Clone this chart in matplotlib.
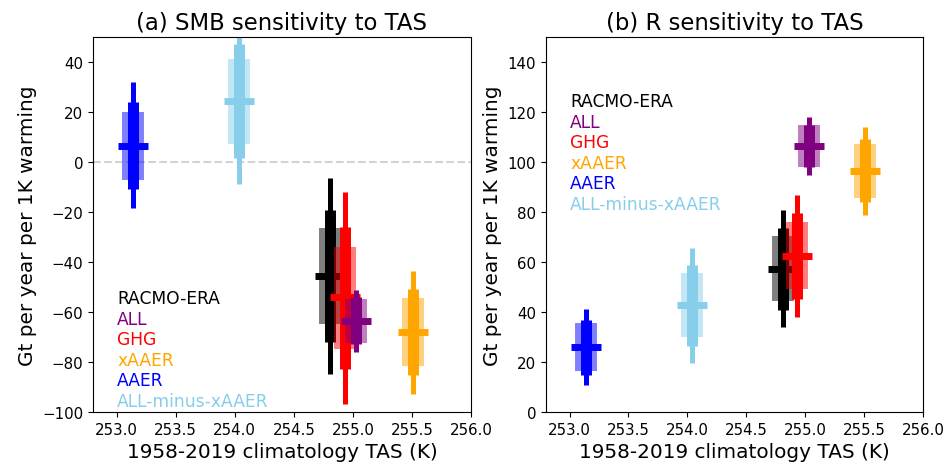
import numpy as np
import matplotlib
matplotlib.use('Agg')
import matplotlib.pyplot as plt

# model runs, same order as the coloured labels
names = ['RACMO-ERA', 'ALL', 'GHG', 'xAAER', 'AAER', 'ALL-minus-xAAER']
colors = ['black', 'purple', 'red', 'orange', 'blue', 'skyblue']

# climatology TAS (K)
tas = [254.81, 255.03, 254.93, 255.51, 253.14, 254.04]

# (a) SMB sensitivity
smb_mean = [-45.6, -63.7, -54.1, -68.1, 6.5, 24.5]
smb_box_lo = [-64.8, -72.4, -74.8, -81.5, -7.1, 7.3]
smb_box_hi = [-26.5, -54.8, -33.9, -54.5, 20.1, 41.2]
smb_in_lo = [-72.1, -72.8, -82.8, -85.2, -10.8, 1.7]
smb_in_hi = [-19.2, -54.1, -25.9, -50.8, 24.1, 47.2]
smb_out_lo = [-84.8, -76.1, -96.8, -92.8, -18.5, -8.9]
smb_out_hi = [-6.5, -51.1, -11.9, -43.5, 31.9, 57.0]

# (b) R sensitivity
r_mean = [57.2, 106.5, 62.3, 96.5, 26.1, 42.7]
r_box_lo = [44.5, 97.9, 49.2, 85.6, 16.3, 29.9]
r_box_hi = [70.3, 114.9, 75.9, 107.2, 35.6, 55.6]
r_in_lo = [40.9, 97.9, 45.2, 83.9, 14.9, 26.5]
r_in_hi = [73.6, 114.9, 79.5, 109.2, 36.9, 58.8]
r_out_lo = [33.9, 94.9, 37.9, 78.8, 10.9, 19.7]
r_out_hi = [80.9, 117.9, 86.9, 114.1, 41.2, 65.6]

draw_order = [0, 2, 1, 3, 4, 5]


def draw_panel(ax, mean, box_lo, box_hi, in_lo, in_hi, out_lo, out_hi):
    for i in draw_order:
        x = tas[i]
        c = colors[i]
        ax.plot([x, x], [box_lo[i], box_hi[i]], color=c, alpha=0.5, lw=15.8,
                solid_capstyle='butt')
        ax.plot([x, x], [out_lo[i], out_hi[i]], color=c, lw=3.6, solid_capstyle='butt')
        ax.plot([x, x], [in_lo[i], in_hi[i]], color=c, lw=7.9, solid_capstyle='butt')
        ax.plot(x, mean[i], marker='_', ms=22, mew=5, color=c)
    ax.set_xlim(252.8, 256.0)
    ax.set_xticks(np.arange(253.0, 256.01, 0.5))
    ax.set_xlabel('1958-2019 climatology TAS (K)', fontsize=14.4)
    ax.set_ylabel('Gt per year per 1K warming', fontsize=14.4)
    ax.tick_params(labelsize=10.8)


fig = plt.figure(figsize=(9.48, 4.64), dpi=100)
ax1 = fig.add_axes([93 / 948, 1 - 413 / 464, 378 / 948, 375 / 464])
ax2 = fig.add_axes([546 / 948, 1 - 413 / 464, 377 / 948, 375 / 464])

ax1.axhline(0, color='lightgray', ls='--', lw=1.5, zorder=0)
draw_panel(ax1, smb_mean, smb_box_lo, smb_box_hi, smb_in_lo, smb_in_hi, smb_out_lo, smb_out_hi)
ax1.set_ylim(-100, 50)
ax1.set_yticks(np.arange(-100, 41, 20))
ax1.set_title('(a) SMB sensitivity to TAS', fontsize=16.4)

draw_panel(ax2, r_mean, r_box_lo, r_box_hi, r_in_lo, r_in_hi, r_out_lo, r_out_hi)
ax2.set_ylim(0, 150)
ax2.set_yticks(np.arange(0, 141, 20))
ax2.set_title('(b) R sensitivity to TAS', fontsize=16.4)

# coloured labels
for ax, y0 in [(ax1, 0.304), (ax2, 0.829)]:
    for k, (n, c) in enumerate(zip(names, colors)):
        ax.text(0.064, y0 - k * 0.0547, n, color=c, fontsize=12.3,
                transform=ax.transAxes, va='center', ha='left')

fig.savefig('out.png', dpi=100)
